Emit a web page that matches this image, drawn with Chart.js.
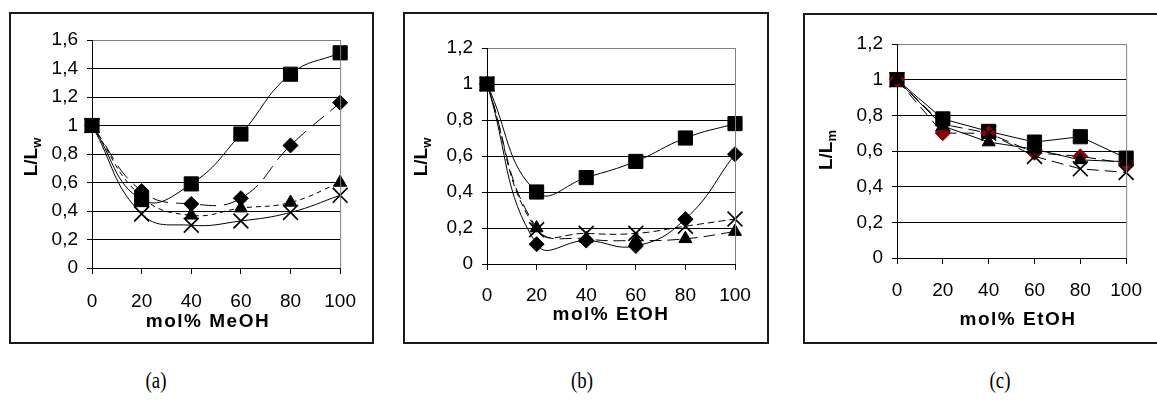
<!DOCTYPE html>
<html>
<head>
<meta charset="utf-8">
<script src="https://cdn.jsdelivr.net/npm/chart.js@4.4.1/dist/chart.umd.min.js"></script>
<style>
  body { margin: 0; background: #fff; width: 1157px; height: 401px; overflow: hidden; position: relative; }
  .box { position: absolute; border: 2px solid #1a1a1a; box-sizing: border-box; }
  canvas { position: absolute; }
  .cap { position: absolute; font-family: "Liberation Serif", serif; font-size: 23px; transform: translateX(-50%) scaleX(0.82); color: #000; }
</style>
</head>
<body>
<div class="box" style="left:9px;top:12px;width:365px;height:332px"></div>
<div class="box" style="left:403px;top:12px;width:366px;height:332px"></div>
<div class="box" style="left:803px;top:13px;width:370px;height:331px"></div>
<canvas id="chartA" width="361" height="328" style="left:11px;top:14px"></canvas>
<canvas id="chartB" width="362" height="328" style="left:405px;top:14px"></canvas>
<canvas id="chartC" width="352" height="327" style="left:805px;top:15px"></canvas>
<div class="cap" style="left:156px;top:368px">(a)</div>
<div class="cap" style="left:582px;top:368px">(b)</div>
<div class="cap" style="left:1000px;top:368px">(c)</div>
<script>
const xCats = ['0', '20', '40', '60', '80', '100'];

// (a) MeOH, L/Lw
const aSquare = [1, 0.48, 0.59, 0.94, 1.36, 1.51];
const aDiamond = [1, 0.54, 0.45, 0.49, 0.86, 1.16];
const aTriangle = [1, 0.50, 0.37, 0.42, 0.46, 0.60];
const aCross = [1, 0.38, 0.30, 0.33, 0.39, 0.51];

// (b) EtOH, L/Lw
const bSquare = [1, 0.40, 0.48, 0.57, 0.70, 0.78];
const bDiamond = [1, 0.11, 0.13, 0.10, 0.25, 0.61];
const bTriangle = [1, 0.20, 0.14, 0.13, 0.14, 0.18];
const bCross = [1, 0.19, 0.17, 0.17, 0.21, 0.25];

// (c) EtOH, L/Lm
const cSquare = [1, 0.78, 0.71, 0.65, 0.68, 0.56];
const cDiamond = [1, 0.70, 0.70, 0.59, 0.57, 0.53];
const cTriangle = [1, 0.74, 0.65, 0.61, 0.55, 0.54];
const cCross = [1, 0.75, 0.70, 0.57, 0.50, 0.48];

const FONT = '"Liberation Sans", Arial, sans-serif';
const fmt = v => String(Math.round(v * 10) / 10).replace('.', ',');

function series(data, style, dash, color, tension) {
  const s = {
    data,
    borderColor: '#000',
    borderWidth: 1,
    borderDash: dash,
    tension,
    pointStyle: style,
    pointBackgroundColor: color,
    pointBorderColor: color,
    pointBorderWidth: 1,
    fill: false
  };
  if (style === 'rect') s.pointRadius = 10;
  if (style === 'rectRot') s.pointRadius = 7.5;
  if (style === 'triangle') s.pointRadius = 7.5;
  if (style === 'crossRot') { s.pointRadius = 10.5; s.pointBorderWidth = 1.7; s.pointBorderColor = '#000'; }
  return s;
}

const frame = {
  id: 'frame',
  afterDraw(chart, args, o) {
    const { ctx, chartArea: a } = chart;
    ctx.save();
    ctx.strokeStyle = '#808080';
    ctx.lineWidth = 1;
    ctx.beginPath();
    ctx.moveTo(a.right + 0.5, a.top);
    ctx.lineTo(a.right + 0.5, a.bottom);
    ctx.stroke();
    ctx.fillStyle = '#000';
    ctx.font = 'bold 19px ' + FONT;
    ctx.letterSpacing = '1.5px';
    ctx.textAlign = 'center';
    ctx.textBaseline = 'middle';
    ctx.fillText(o.xTitle, o.xtX, o.xtY);
    ctx.letterSpacing = '0px';
    // rotated y title with subscript
    ctx.translate(o.ytX, o.ytY);
    ctx.rotate(-Math.PI / 2);
    ctx.textAlign = 'left';
    ctx.textBaseline = 'alphabetic';
    const main = 'L/L';
    ctx.font = 'bold 19px ' + FONT;
    const w1 = ctx.measureText(main).width;
    ctx.font = 'bold 13px ' + FONT;
    const w2 = ctx.measureText(o.sub).width;
    const start = -(w1 + w2) / 2;
    ctx.font = 'bold 19px ' + FONT;
    ctx.fillText(main, start, 7);
    ctx.font = 'bold 13px ' + FONT;
    ctx.fillText(o.sub, start + w1, 11);
    ctx.restore();
  }
};

function makePanel(id, sets, yMax, lay, titles) {
  new Chart(document.getElementById(id), {
    type: 'line',
    data: { labels: xCats, datasets: sets },
    options: {
      responsive: false,
      animation: false,
      layout: { padding: { top: lay.top, right: lay.right, left: 0, bottom: 0 } },
      plugins: { legend: { display: false }, tooltip: { enabled: false }, frame: titles },
      scales: {
        x: {
          grid: { drawOnChartArea: false, color: '#000', tickLength: 6 },
          border: { color: '#000', width: 1 },
          ticks: { color: '#000', padding: lay.xPad, maxRotation: 0, autoSkip: false, font: { family: FONT, size: 19 } },
          afterFit: s => { s.height = lay.xH; }
        },
        y: {
          min: 0, max: yMax,
          grid: {
            color: c => (Math.abs(c.tick.value - yMax) < 1e-6 ? '#808080' : '#000'),
            tickColor: '#000',
            tickLength: 5
          },
          border: { color: '#000', width: 1 },
          ticks: { stepSize: 0.2, color: '#000', padding: 9, callback: fmt, font: { family: FONT, size: 19 } },
          afterFit: s => { s.width = lay.yW; }
        }
      }
    },
    plugins: [frame]
  });
}

makePanel('chartA', [
  series(aCross, 'crossRot', [], '#000', 0.45),
  series(aTriangle, 'triangle', [5, 4], '#000', 0.45),
  series(aDiamond, 'rectRot', [16, 8], '#000', 0.45),
  series(aSquare, 'rect', [], '#000', 0.45)
], 1.6, { top: 26, right: 20, yW: 81, xH: 74, xPad: 16 },
  { xTitle: 'mol% MeOH', xtX: 197, xtY: 308, sub: 'w', ytX: 19, ytY: 143 });

makePanel('chartB', [
  series(bCross, 'crossRot', [7, 4], '#000', 0.45),
  series(bTriangle, 'triangle', [12, 6], '#000', 0.45),
  series(bDiamond, 'rectRot', [], '#000', 0.45),
  series(bSquare, 'rect', [], '#000', 0.45)
], 1.2, { top: 34, right: 32, yW: 82, xH: 78, xPad: 14 },
  { xTitle: 'mol% EtOH', xtX: 206, xtY: 301, sub: 'w', ytX: 15, ytY: 143 });

makePanel('chartC', [
  series(cCross, 'crossRot', [12, 6], '#000', 0),
  series(cTriangle, 'triangle', [], '#000', 0),
  series(cDiamond, 'rectRot', [12, 6], '#8b0000', 0),
  series(cSquare, 'rect', [], '#000', 0)
], 1.2, { top: 29, right: 14, yW: 92, xH: 84, xPad: 15 },
  { xTitle: 'mol% EtOH', xtX: 213, xtY: 305, sub: 'm', ytX: 20, ytY: 135 });
</script>
</body>
</html>
